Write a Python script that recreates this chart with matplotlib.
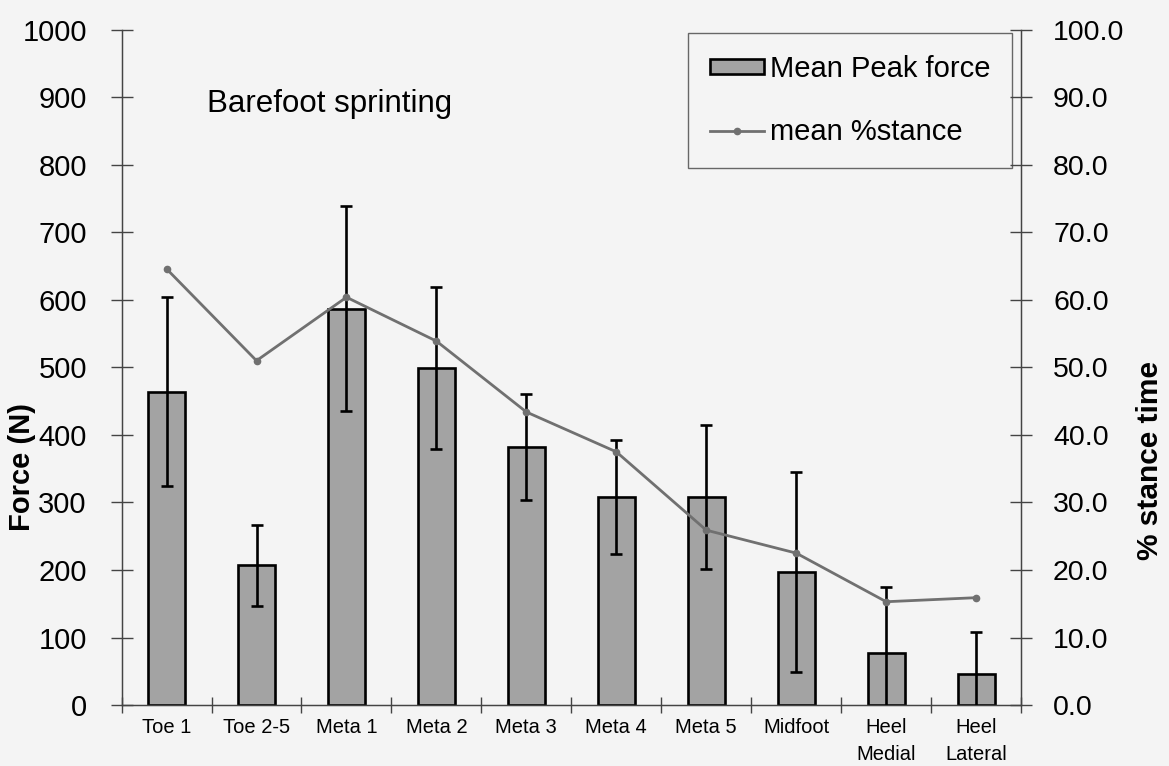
"""Barefoot sprinting: mean peak force and %stance per foot region"""
import numpy as np
import matplotlib.pyplot as plt
from matplotlib.ticker import FormatStrFormatter, FixedLocator

plt.rcParams['font.family'] = ['Liberation Sans', 'DejaVu Sans']

regions = ['Toe 1', 'Toe 2-5', 'Meta 1', 'Meta 2', 'Meta 3', 'Meta 4', 'Meta 5',
           'Midfoot', 'Heel\nMedial', 'Heel\nLateral']
peak_force = [464, 207, 587, 499, 382, 308, 308, 197, 77, 46]
peak_force_sd = [140, 60, 152, 120, 78, 85, 107, 148, 98, 62]
stance_pct = [64.6, 51.0, 60.4, 53.9, 43.4, 37.5, 25.9, 22.5, 15.3, 15.9]

bg = '#f4f4f4'
axis_col = '#444444'
x = np.arange(len(regions))

fig = plt.figure(figsize=(11.69, 7.66), dpi=100, facecolor=bg)
ax = fig.add_axes([0.104, 0.0796, 0.7695, 0.8814], facecolor=bg)

bars = ax.bar(x, peak_force, width=0.41, color='#a3a3a3', edgecolor='black',
              linewidth=1.9, label='Mean Peak force', zorder=2)
ax.errorbar(x, peak_force, yerr=peak_force_sd, fmt='none', ecolor='black',
            elinewidth=1.9, capsize=4, capthick=1.9, zorder=3)

ax.set_xlim(-0.5, len(regions) - 0.5)
ax.set_ylim(0, 1000)
ax.set_yticks(np.arange(0, 1001, 100))
ax.set_xticks(x)
ax.set_xticklabels(regions, fontsize=14.5, linespacing=1.55)
ax.xaxis.set_minor_locator(FixedLocator(np.arange(-0.5, len(regions), 1.0)))
ax.tick_params(axis='x', which='major', length=0, pad=9)
ax.tick_params(axis='x', which='minor', direction='inout', length=12, width=1, color=axis_col)
ax.tick_params(axis='y', direction='inout', length=16, width=1, color=axis_col,
               labelsize=21, pad=17)

ax.spines['top'].set_visible(False)
for side in ['left', 'bottom', 'right']:
    ax.spines[side].set_color(axis_col)
    ax.spines[side].set_linewidth(1)

ax.text(0.45, 890, 'Barefoot sprinting', fontsize=22.5, va='center', ha='left')

ax2 = ax.twinx()
ax2.set_ylim(0, 100)
ax2.set_yticks(np.arange(0, 101, 10))
ax2.yaxis.set_major_formatter(FormatStrFormatter('%.1f'))
line, = ax2.plot(x, stance_pct, color='#707070', linewidth=2, marker='o',
                 markersize=4.5, label='mean %stance', zorder=4)
ax2.tick_params(axis='y', direction='inout', length=16, width=1, color=axis_col,
                labelsize=20.5, pad=15)
ax2.spines['top'].set_visible(False)
for side in ['left', 'bottom', 'right']:
    ax2.spines[side].set_color(axis_col)

# axis titles placed in figure coordinates
fig.text(22 / 1169, 1 - 467 / 766, 'Force (N)', rotation=90, ha='center',
         va='center', fontsize=21, fontweight='bold')
fig.text(1150 / 1169, 1 - 460 / 766, '% stance time', rotation=90, ha='center',
         va='center', fontsize=21.5, fontweight='bold')

leg = ax.legend([bars, line], ['Mean Peak force', 'mean %stance'],
                loc='upper right', bbox_to_anchor=(1012 / 1169, 1 - 33 / 766),
                bbox_transform=fig.transFigure, borderaxespad=0,
                fontsize=21, frameon=True, fancybox=False, handlelength=1.85,
                handleheight=0.45, handletextpad=0.2, labelspacing=1.2,
                borderpad=0.75)
leg.get_frame().set_edgecolor(axis_col)
leg.get_frame().set_facecolor(bg)
leg.get_frame().set_linewidth(1)
leg.set_zorder(10)

plt.savefig('out.png', dpi=100, facecolor=bg)
plt.close()
